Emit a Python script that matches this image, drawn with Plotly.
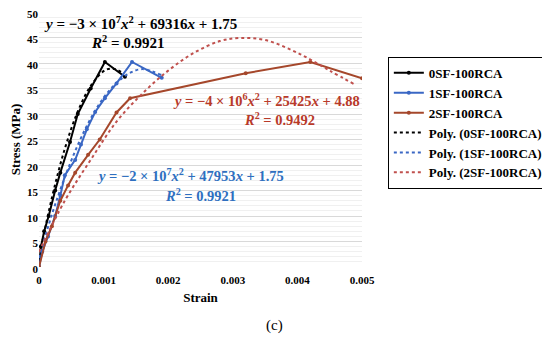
import plotly.graph_objects as go

# ---- data ----
strain_0sf = [0, 0.00003, 0.00008, 0.00015, 0.00025, 0.00033, 0.00048, 0.0006, 0.0008, 0.00102, 0.00133]
stress_0sf = [0, 4, 7, 10, 15, 18.5, 24.5, 30, 35, 40.2, 37.3]

strain_1sf = [0, 0.00005, 0.00014, 0.00025, 0.00033, 0.0004, 0.00056, 0.00065, 0.00074, 0.00087, 0.00102, 0.0012, 0.00144, 0.0019]
stress_1sf = [0, 3, 6, 10, 14, 18, 21, 24, 27, 30.4, 33.1, 36, 40.2, 37.1]

strain_2sf = [0, 0.0001, 0.0002, 0.00033, 0.00045, 0.00056, 0.00076, 0.00094, 0.0012, 0.00141, 0.0032, 0.0042, 0.005]
stress_2sf = [0, 5, 8, 13, 16, 18.5, 22, 25, 30.3, 33.1, 38, 40.2, 37]

# polynomial trend lines
trend_strain_0sf = [0, 0.0002, 0.0004, 0.0006, 0.0008, 0.001, 0.0011, 0.0012, 0.0013]
trend_stress_0sf = [1.75, 13.6, 23.2, 30.5, 35.5, 38.4, 38.9, 38.7, 38.0]

trend_strain_1sf = [0, 0.0002, 0.0004, 0.0006, 0.0008, 0.001, 0.0012, 0.0014, 0.0016, 0.0019]
trend_stress_1sf = [1.75, 10.3, 17.6, 23.9, 29.1, 33.2, 36.1, 38.0, 38.8, 37.6]

trend_strain_2sf = [0, 0.0004, 0.0008, 0.0012, 0.0016, 0.002, 0.0024, 0.0028, 0.0031, 0.0035, 0.004, 0.0045, 0.0049]
trend_stress_2sf = [3, 13, 21, 28.5, 34, 38.5, 42, 44.3, 44.9, 44.5, 42, 38.5, 35.7]

names = ["0SF-100RCA", "1SF-100RCA", "2SF-100RCA"]
x_ticks = [0, 0.001, 0.002, 0.003, 0.004, 0.005]
x_tick_labels = ["0", "0.001", "0.002", "0.003", "0.004", "0.005"]

BLACK = "#000000"
BLUE = "#3A67C4"
BROWN = "#A5472B"
RED_DOT = "#C0504D"
SERIF = "Liberation Serif, Times New Roman, serif"

fig = go.Figure()

series = [
    (strain_0sf, stress_0sf, BLACK),
    (strain_1sf, stress_1sf, BLUE),
    (strain_2sf, stress_2sf, BROWN),
]
for (xs, ys, col), nm in zip(series, names):
    fig.add_trace(go.Scatter(
        x=xs, y=ys, name=nm, mode="lines+markers",
        line=dict(color=col, width=2),
        marker=dict(color=col, size=4, symbol="circle"),
    ))

trends = [
    (trend_strain_0sf, trend_stress_0sf, BLACK),
    (trend_strain_1sf, trend_stress_1sf, BLUE),
    (trend_strain_2sf, trend_stress_2sf, RED_DOT),
]
for (xs, ys, col), nm in zip(trends, names):
    fig.add_trace(go.Scatter(
        x=xs, y=ys, name=f"Poly. ({nm})", mode="lines",
        line=dict(color=col, width=2, dash="dot", shape="spline"),
    ))

ann_font = dict(family=SERIF, size=14.5)
annotations = [
    dict(x=0.00004, y=47.9, xanchor="left",
         text="<b><i>y</i> = −3 × 10<sup>7</sup><i>x</i><sup>2</sup> + 69316<i>x</i> + 1.75</b>",
         font=dict(color=BLACK, family=SERIF, size=15)),
    dict(x=0.00138, y=44.2, xanchor="center",
         text="<b><i>R</i><sup>2</sup> = 0.9921</b>",
         font=dict(color=BLACK, family=SERIF, size=15)),
    dict(x=0.00205, y=32.7, xanchor="left",
         text="<b><i>y</i> = −4 × 10<sup>6</sup><i>x</i><sup>2</sup> + 25425<i>x</i> + 4.88</b>",
         font=dict(color="#B83A2A", **ann_font)),
    dict(x=0.00373, y=29.0, xanchor="center",
         text="<b><i>R</i><sup>2</sup> = 0.9492</b>",
         font=dict(color="#B83A2A", **ann_font)),
    dict(x=0.00087, y=18.0, xanchor="left",
         text="<b><i>y</i> = −2 × 10<sup>7</sup><i>x</i><sup>2</sup> + 47953<i>x</i> + 1.75</b>",
         font=dict(color="#2E6FC0", **ann_font)),
    dict(x=0.00250, y=14.2, xanchor="center",
         text="<b><i>R</i><sup>2</sup> = 0.9921</b>",
         font=dict(color="#2E6FC0", **ann_font)),
]
for a in annotations:
    fig.add_annotation(xref="x", yref="y", showarrow=False, yanchor="middle", **a)

fig.add_annotation(xref="paper", yref="paper", x=0.73, y=-0.23, showarrow=False,
                   text="(c)", font=dict(family=SERIF, size=15, color="#000000"),
                   xanchor="center", yanchor="middle")

# the page places the figure 8 px in from the top-left corner
fig.update_layout(
    width=542, height=331,
    margin=dict(l=31, r=188, t=4, b=72, autoexpand=False),
    paper_bgcolor="white", plot_bgcolor="white",
    font=dict(family=SERIF, color="#000000"),
    legend=dict(
        x=1.08, y=0.824, xanchor="left", yanchor="top",
        bordercolor="#000000", borderwidth=1, bgcolor="white",
        font=dict(family=SERIF, size=13, color="#000000", weight="bold"),
        tracegroupgap=0, itemwidth=30,
    ),
    xaxis=dict(
        range=[0, 0.005], tickvals=x_ticks, ticktext=x_tick_labels,
        showgrid=False, zeroline=False, showline=False, automargin=False,
        ticklabelstandoff=5,
        tickfont=dict(family=SERIF, size=11, color="#000000", weight="bold"),
        title=dict(text="<b>Strain</b>", font=dict(family=SERIF, size=13), standoff=7),
    ),
    yaxis=dict(
        range=[0, 50], dtick=5, automargin=False, ticklabeloverflow="allow",
        ticklabelshift=2,
        showgrid=True, gridcolor="#D9D9D9", gridwidth=1,
        minor=dict(dtick=1, showgrid=True, gridcolor="#F0F0F0", gridwidth=1),
        zeroline=False, showline=False,
        tickfont=dict(family=SERIF, size=11, color="#000000", weight="bold"),
        title=dict(text="<b>Stress (MPa)</b>", font=dict(family=SERIF, size=13), standoff=6),
    ),
)

fig.write_html("out.html")
